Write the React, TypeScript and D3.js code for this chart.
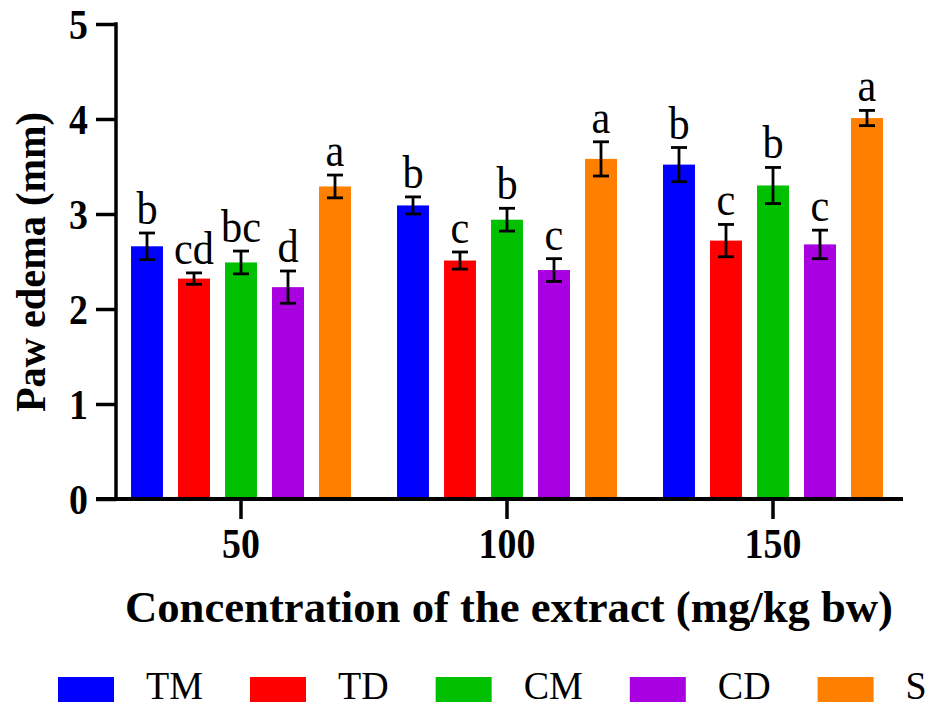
import React, { useEffect, useRef } from "react";
import * as d3 from "d3";

// doses on the x axis
const groups = ["50", "100", "150"];
const seriesNames = ["TM", "TD", "CM", "CD", "S"];
const seriesColors = ["#0000ff", "#ff0000", "#00c000", "#a800e0", "#ff8000"];

// mean paw edema (mm) per dose
const tmMean = [2.66, 3.09, 3.52];
const tdMean = [2.32, 2.51, 2.72];
const cmMean = [2.49, 2.94, 3.3];
const cdMean = [2.23, 2.41, 2.68];
const sMean = [3.29, 3.58, 4.01];

// error (+/-)
const tmErr = [0.14, 0.09, 0.18];
const tdErr = [0.06, 0.09, 0.17];
const cmErr = [0.12, 0.12, 0.19];
const cdErr = [0.17, 0.12, 0.15];
const sErr = [0.12, 0.18, 0.08];

// significance letters
const tmLetters = ["b", "b", "b"];
const tdLetters = ["cd", "c", "c"];
const cmLetters = ["bc", "b", "b"];
const cdLetters = ["d", "c", "c"];
const sLetters = ["a", "a", "a"];

const yTicks = [0, 1, 2, 3, 4, 5];

const FONT = "'Liberation Serif', 'Times New Roman', serif";

// squeeze a text horizontally, the reference type is narrow
const condense = (sel: any, k: number) => {
  sel.each(function (this: SVGTextElement) {
    const w = this.getComputedTextLength();
    d3.select(this).attr("textLength", w * k).attr("lengthAdjust", "spacingAndGlyphs");
  });
};

const App = () => {
  const svgRef = useRef<SVGSVGElement>(null);

  useEffect(() => {
    const width = 934;
    const height = 708;
    const left = 116;
    const right = 903;
    const top = 24;
    const bottom = 499;

    const means = [tmMean, tdMean, cmMean, cdMean, sMean];
    const errs = [tmErr, tdErr, cmErr, cdErr, sErr];
    const letters = [tmLetters, tdLetters, cmLetters, cdLetters, sLetters];

    const rows: any[] = [];
    groups.forEach((g, gi) => {
      seriesNames.forEach((s, si) => {
        rows.push({
          group: g,
          series: s,
          color: seriesColors[si],
          value: means[si][gi],
          err: errs[si][gi],
          letter: letters[si][gi],
        });
      });
    });

    const svg = d3.select(svgRef.current);
    svg.selectAll("*").remove();
    svg.attr("width", width).attr("height", height);

    const x0 = d3.scaleBand().domain(groups).range([108, 906]);
    const x1 = d3
      .scaleBand()
      .domain(seriesNames)
      .range([-117.5, 117.5])
      .paddingInner(0.32)
      .paddingOuter(0.16);
    const y = d3.scaleLinear().domain([0, 5]).range([bottom, top]);

    const xc = (d: any) => x0(d.group)! + x0.bandwidth() / 2 + x1(d.series)!;

    // bars
    svg
      .append("g")
      .selectAll("rect")
      .data(rows)
      .join("rect")
      .attr("x", (d) => xc(d))
      .attr("width", x1.bandwidth())
      .attr("y", (d) => y(d.value))
      .attr("height", (d) => y(0) - y(d.value))
      .attr("fill", (d) => d.color);

    // error bars
    const eb = svg.append("g").attr("stroke", "#000").attr("stroke-width", 2.8);
    rows.forEach((d) => {
      const cx = xc(d) + x1.bandwidth() / 2;
      eb.append("line")
        .attr("x1", cx)
        .attr("x2", cx)
        .attr("y1", y(d.value + d.err))
        .attr("y2", y(d.value - d.err));
      [d.value + d.err, d.value - d.err].forEach((v) => {
        eb.append("line")
          .attr("x1", cx - 8)
          .attr("x2", cx + 8)
          .attr("y1", y(v))
          .attr("y2", y(v));
      });
    });

    // letters
    const lt = svg
      .append("g")
      .selectAll("text")
      .data(rows)
      .join("text")
      .attr("x", (d) => xc(d) + x1.bandwidth() / 2)
      .attr("y", (d) => y(d.value + d.err) - 9)
      .attr("text-anchor", "middle")
      .attr("font-family", FONT)
      .attr("font-size", 46)
      .attr("fill", "#000")
      .text((d) => d.letter);
    condense(lt, 0.92);

    // y axis
    const yAxis = d3
      .axisLeft(y)
      .tickValues(yTicks)
      .tickFormat(d3.format("d"))
      .tickSize(20)
      .tickPadding(8);
    const gy = svg.append("g").attr("transform", `translate(${left},0)`).call(yAxis);
    gy.select(".domain").remove();
    gy.selectAll("line").attr("stroke", "#000").attr("stroke-width", 3.5);
    gy.selectAll("text")
      .attr("font-family", FONT)
      .attr("font-weight", "bold")
      .attr("font-size", 43)
      .attr("dy", "0.34em")
      .attr("fill", "#000");
    condense(gy.selectAll("text"), 0.88);
    svg
      .append("line")
      .attr("x1", left)
      .attr("x2", left)
      .attr("y1", top - 1.75)
      .attr("y2", bottom)
      .attr("stroke", "#000")
      .attr("stroke-width", 3.5);

    // x axis
    const xAxis = d3.axisBottom(x0).tickSize(20).tickPadding(8);
    const gx = svg.append("g").attr("transform", `translate(0,${bottom})`).call(xAxis);
    gx.select(".domain").remove();
    gx.selectAll("line").attr("stroke", "#000").attr("stroke-width", 3.5);
    gx.selectAll("text")
      .attr("font-family", FONT)
      .attr("font-weight", "bold")
      .attr("font-size", 43)
      .attr("fill", "#000");
    condense(gx.selectAll("text"), 0.88);
    svg
      .append("line")
      .attr("x1", 96)
      .attr("x2", right)
      .attr("y1", bottom)
      .attr("y2", bottom)
      .attr("stroke", "#000")
      .attr("stroke-width", 4);

    // axis titles
    svg
      .append("text")
      .attr("x", 509)
      .attr("y", 622)
      .attr("text-anchor", "middle")
      .attr("font-family", FONT)
      .attr("font-weight", "bold")
      .attr("font-size", 44)
      .attr("textLength", 768)
      .attr("lengthAdjust", "spacingAndGlyphs")
      .text("Concentration of the extract (mg/kg bw)");

    svg
      .append("text")
      .attr("transform", "translate(45,262) rotate(-90)")
      .attr("text-anchor", "middle")
      .attr("font-family", FONT)
      .attr("font-weight", "bold")
      .attr("font-size", 42)
      .attr("textLength", 300)
      .attr("lengthAdjust", "spacingAndGlyphs")
      .text("Paw edema (mm)");

    // legend
    const lg = svg.append("g");
    let lx = 58;
    seriesNames.forEach((s, i) => {
      lg.append("rect")
        .attr("x", lx)
        .attr("y", 677)
        .attr("width", 56)
        .attr("height", 25)
        .attr("fill", seriesColors[i]);
      const t = lg
        .append("text")
        .attr("x", lx + 88)
        .attr("y", 699)
        .attr("font-family", FONT)
        .attr("font-size", 40)
        .attr("fill", "#000")
        .text(s);
      const w = (t.node() as SVGTextElement).getComputedTextLength() * 0.95;
      t.attr("textLength", w).attr("lengthAdjust", "spacingAndGlyphs");
      lx = lx + 88 + w + 47;
    });
  }, []);

  return (
    <div>
      <svg ref={svgRef} style={{ position: "absolute", left: 0, top: 0 }} />
    </div>
  );
};

export default App;
